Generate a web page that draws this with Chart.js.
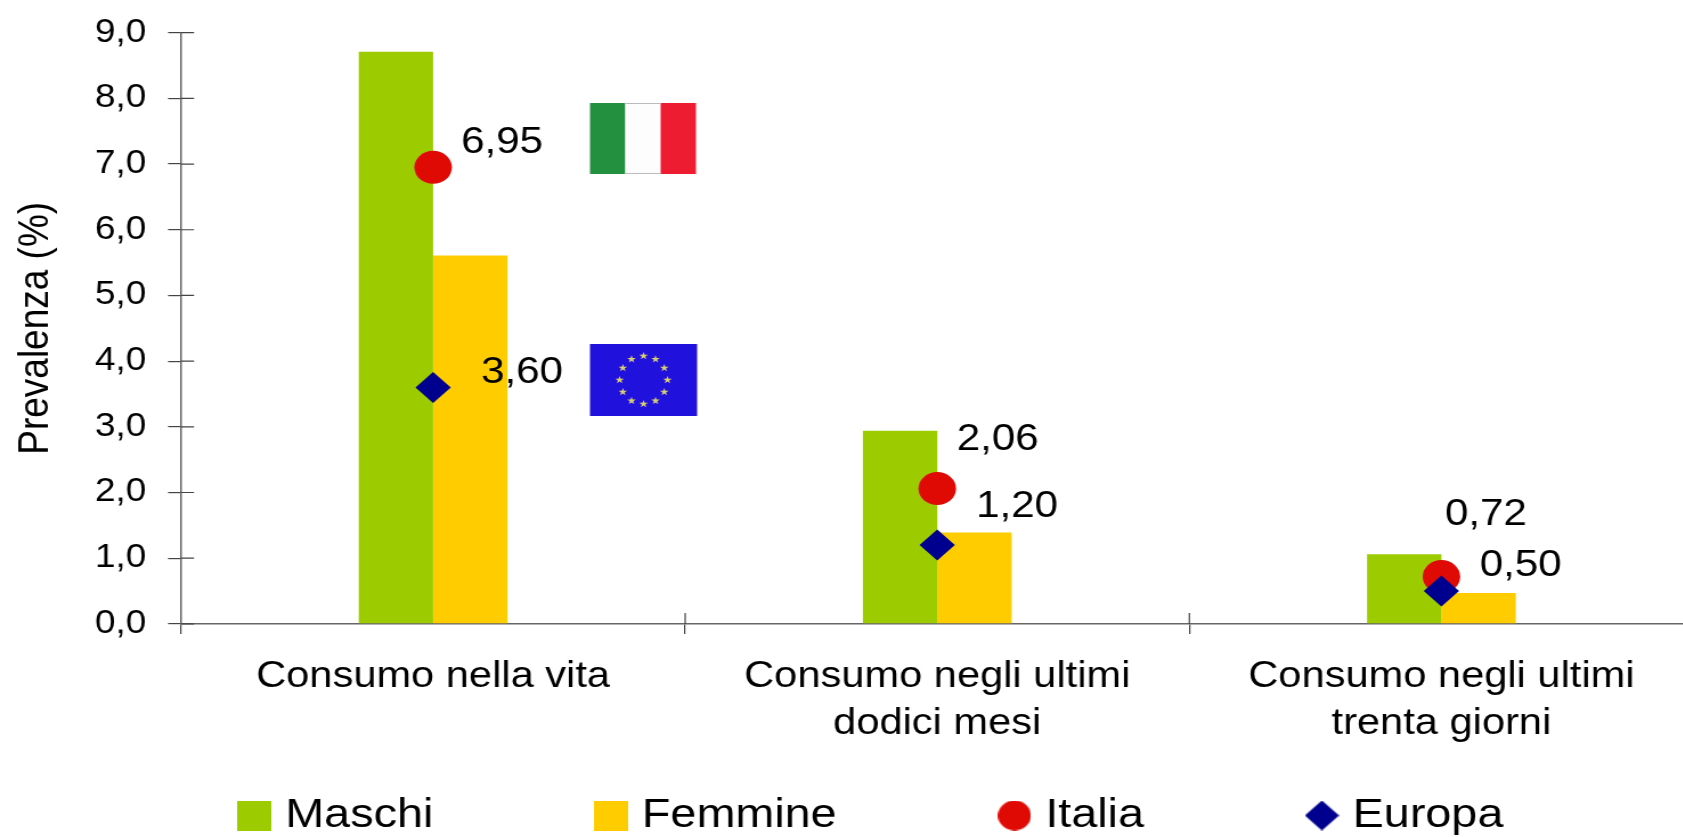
<!DOCTYPE html>
<html>
<head>
<meta charset="utf-8">
<script src="https://cdn.jsdelivr.net/npm/chart.js@4/dist/chart.umd.min.js"></script>
<style>
  html, body { margin: 0; background: #fff; }
  /* the source picture is a slide stretched sideways, so the whole chart is too */
  #frame { width: 1683px; height: 837px; overflow: hidden; }
  #frame canvas { transform: scaleX(1.14); transform-origin: 0 0; }
</style>
</head>
<body>
<!-- wider than the frame: the x axis runs off the right edge in the source -->
<div id="frame"><canvas id="chart" width="1502" height="837"></canvas></div>
<script>
const categories = [
  'Consumo nella vita',
  ['Consumo negli ultimi', 'dodici mesi'],
  ['Consumo negli ultimi', 'trenta giorni']
];
const maschi = [8.71, 2.94, 1.06];
const femmine = [5.61, 1.39, 0.47];
const italia = [6.95, 2.06, 0.72];
const europa = [3.60, 1.20, 0.50];

const GREEN = '#9ccc00';
const YELLOW = '#ffcc00';
const RED = '#e00a05';
const BLUE = '#00008f';
const FONT = '"Liberation Sans", Arial, sans-serif';

// where each value label sits, relative to its marker
const italiaLabelOffset = [[24.5, -25], [17, -49], [3, -62]];
const europaLabelOffset = [[42, -15], [34, -38], [33.5, -25]];

const comma = (v, digits) => v.toFixed(digits).replace('.', ',');

function legendMarker(kind, w, h, color) {
  const c = document.createElement('canvas');
  c.width = w;
  c.height = h;
  const ctx = c.getContext('2d');
  ctx.fillStyle = color;
  ctx.beginPath();
  if (kind === 'circle') {
    ctx.ellipse(w / 2, h / 2, w / 2, h / 2, 0, 0, Math.PI * 2);
  } else if (kind === 'diamond') {
    ctx.moveTo(w / 2, 0);
    ctx.lineTo(w, h / 2);
    ctx.lineTo(w / 2, h);
    ctx.lineTo(0, h / 2);
    ctx.closePath();
  } else {
    ctx.rect(0, 0, w, h);
  }
  ctx.fill();
  return c;
}

const legendMarkers = [
  legendMarker('rect', 30, 30, GREEN),
  legendMarker('rect', 30, 30, YELLOW),
  legendMarker('circle', 29, 30, RED),
  legendMarker('diamond', 30, 30, BLUE)
];

function drawEuStars(ctx, cx, cy) {
  ctx.fillStyle = '#d8d070';
  for (let i = 0; i < 12; i++) {
    const a = i * Math.PI / 6;
    const sx = cx + Math.sin(a) * 21;
    const sy = cy - Math.cos(a) * 24;
    ctx.beginPath();
    for (let k = 0; k < 10; k++) {
      const r = k % 2 ? 1.6 : 4;
      const b = k * Math.PI / 5;
      ctx.lineTo(sx + Math.sin(b) * r, sy - Math.cos(b) * r);
    }
    ctx.closePath();
    ctx.fill();
  }
}

const furniture = {
  id: 'furniture',
  afterLayout(chart) {
    // the legend row sits under the axis labels, off-centre
    chart.legend.top += 9;
    chart.legend.bottom += 9;
    chart.legend.left += 16.7;
    chart.legend.right += 16.7;
    // x labels get clipped to the scale box, which the legend has squeezed
    chart.scales.x.bottom += 130;
  },
  afterDatasetsDraw(chart) {
    const { ctx, scales: { x, y } } = chart;
    ctx.save();

    // ticks cross the axes, Chart.js only draws the outer half
    ctx.strokeStyle = '#444';
    ctx.lineWidth = 1.2;
    ctx.beginPath();
    y.ticks.forEach((t, i) => {
      const py = y.getPixelForTick(i);
      ctx.moveTo(x.left, py);
      ctx.lineTo(x.left + 11.4, py);
    });
    [1, 2].forEach(i => {
      const px = x.left + i * x.width / categories.length;
      ctx.moveTo(px, y.bottom);
      ctx.lineTo(px, y.bottom - 11);
    });
    ctx.stroke();

    // value labels
    ctx.fillStyle = '#000';
    ctx.font = '37px ' + FONT;
    ctx.textAlign = 'left';
    ctx.textBaseline = 'middle';
    [[2, italia, italiaLabelOffset], [3, europa, europaLabelOffset]].forEach(([ds, values, offs]) => {
      chart.getDatasetMeta(ds).data.forEach((pt, i) => {
        ctx.fillText(comma(values[i], 2), pt.x + offs[i][0], pt.y + offs[i][1]);
      });
    });

    // italian flag
    ctx.fillStyle = '#239040';
    ctx.fillRect(517.5, 103, 31, 71);
    ctx.fillStyle = '#fdfdfd';
    ctx.fillRect(548.5, 103, 31, 71);
    ctx.fillStyle = '#ee1c30';
    ctx.fillRect(579.5, 103, 31, 71);
    ctx.fillStyle = '#bbb';
    ctx.fillRect(548.5, 103, 31, 1);
    ctx.fillRect(548.5, 173, 31, 1);

    // european flag
    ctx.fillStyle = '#2011dd';
    ctx.fillRect(517.5, 344, 94, 72);
    drawEuStars(ctx, 564.5, 380);

    ctx.restore();
  }
};

new Chart(document.getElementById('chart'), {
  type: 'bar',
  data: {
    labels: categories,
    datasets: [
      { label: 'Maschi', data: maschi, backgroundColor: GREEN, order: 3 },
      { label: 'Femmine', data: femmine, backgroundColor: YELLOW, order: 3 },
      { type: 'line', label: 'Italia', data: italia, showLine: false, pointStyle: 'circle',
        pointRadius: 16.5, backgroundColor: RED, borderWidth: 0, order: 2 },
      { type: 'line', label: 'Europa', data: europa, showLine: false, pointStyle: 'rectRot',
        pointRadius: 15.5, backgroundColor: BLUE, borderWidth: 0, order: 1 }
    ]
  },
  options: {
    responsive: false,
    animation: false,
    devicePixelRatio: 1,
    layout: { padding: { top: 32.7 } },
    datasets: { bar: { categoryPercentage: 0.295, barPercentage: 1 } },
    scales: {
      x: {
        afterFit(scale) {
          scale.height = 12.6;
          scale.paddingLeft = 0;
          scale.paddingRight = 0;
        },
        grid: { drawOnChartArea: false, offset: true, tickLength: 10, color: '#444', lineWidth: 1.2 },
        border: { color: '#666', width: 1.5 },
        ticks: {
          color: '#000',
          padding: 19,
          maxRotation: 0,
          autoSkip: false,
          font: { family: FONT, size: 36.5, lineHeight: 1.3 }
        }
      },
      y: {
        min: 0,
        max: 9,
        afterFit(scale) {
          scale.width = 158.8;
          scale.paddingTop = 0;
          scale.paddingBottom = 0;
        },
        grid: { drawOnChartArea: false, tickLength: 11.4, color: '#444', lineWidth: 1.2 },
        border: { color: '#666', width: 1.5 },
        title: {
          display: true,
          text: 'Prevalenza (%)',
          color: '#000',
          padding: { top: 9.5, bottom: 0 },
          font: { family: FONT, size: 37 }
        },
        ticks: {
          stepSize: 1,
          color: '#000',
          padding: 19,
          font: { family: FONT, size: 32.5 },
          callback: v => comma(v, 1)
        }
      }
    },
    plugins: {
      tooltip: { enabled: false },
      legend: {
        position: 'bottom',
        labels: {
          usePointStyle: true,
          pointStyleWidth: 13,
          padding: 149.5,
          color: '#000',
          font: { family: FONT, size: 41 },
          generateLabels: chart => chart.data.datasets.map((ds, i) => ({
            text: ds.label,
            datasetIndex: i,
            pointStyle: legendMarkers[i],
            fontColor: '#000',
            lineWidth: 0
          }))
        }
      }
    }
  },
  plugins: [furniture]
});
</script>
</body>
</html>
